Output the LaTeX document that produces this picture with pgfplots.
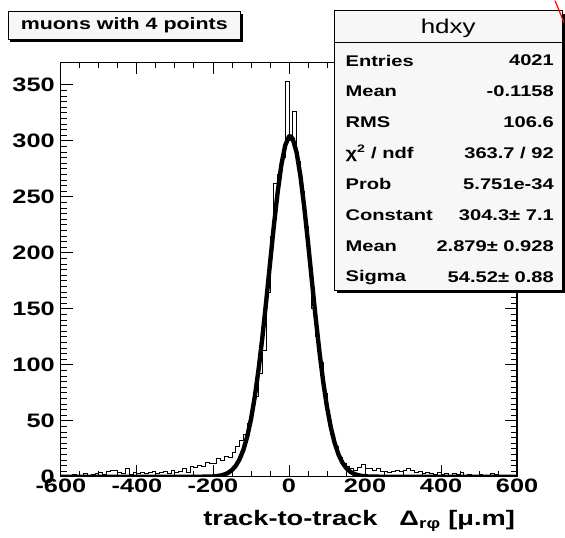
\documentclass[border=0pt]{standalone}
\usepackage{fontspec}
\setmainfont{Liberation Sans}[FakeStretch=1.3]
\usepackage{pgfplots}
\pgfplotsset{compat=1.18}
\begin{document}
\begin{tikzpicture}[x=1pt,y=1pt]
\path (0,0) rectangle (565,538);
\begin{axis}[at={(61pt,61pt)}, anchor=south west, scale only axis,
  width=457pt, height=415pt,
  xmin=-600, xmax=600, ymin=0, ymax=370,
  xtick={-600,-400,-200,0,200,400,600}, ytick={0,50,100,150,200,250,300,350},
  minor x tick num=3, minor y tick num=9,
  tick align=inside, major tick length=12pt, minor tick length=6pt,
  axis line style={line width=1.2pt},
  every tick/.style={black, line width=0.9pt},
  /pgf/number format/assume math mode=true,
  ticklabel style={font=\bfseries\fontsize{19.5}{19.5}\selectfont},
  xticklabel style={inner sep=1pt, yshift=-1pt},
  yticklabel style={inner sep=2pt, xshift=-4pt},
]
\addplot[const plot, black, line width=0.9pt] coordinates {
(-600,1) (-590,0) (-580,1) (-570,2) (-560,0) (-550,1) (-540,3) (-530,1) (-520,2) (-510,3)
(-500,4) (-490,2) (-480,5) (-470,6) (-460,6) (-450,4) (-440,3) (-430,7) (-420,2) (-410,4)
(-400,3) (-390,4) (-380,3) (-370,4) (-360,5) (-350,3) (-340,4) (-330,5) (-320,3) (-310,6)
(-300,4) (-290,5) (-280,7) (-270,4) (-260,9) (-250,8) (-240,10) (-230,9) (-220,13) (-210,12)
(-200,12) (-190,16) (-180,15) (-170,18) (-160,17) (-150,22) (-140,27) (-130,32) (-120,38) (-110,48)
(-100,60) (-90,72) (-80,92) (-70,113) (-60,165) (-50,215) (-40,262) (-30,270) (-20,285) (-10,353)
(0,300) (10,326) (20,282) (30,255) (40,224) (50,190) (60,150) (70,125) (80,102) (90,74)
(100,54) (110,38) (120,27) (130,17) (140,12) (150,9) (160,7) (170,6) (180,8) (190,11)
(200,7) (210,7) (220,6) (230,7) (240,5) (250,5) (260,4) (270,5) (280,6) (290,5)
(300,6) (310,7) (320,6) (330,4) (340,5) (350,3) (360,4) (370,3) (380,2) (390,4)
(400,2) (410,3) (420,1) (430,3) (440,2) (450,4) (460,1) (470,2) (480,1) (490,1)
(500,2) (510,1) (520,1) (530,3) (540,2) (550,1) (560,0) (570,1) (580,1) (590,0) (600,0)
};
\addplot[black, line width=4.4pt, line join=round, line cap=round] coordinates {
(-600,0) (-300,0) (-250,0) (-220,0.07) (-210,0.15) (-200,0.30) (-190,0.58) (-180,1.10)
(-170,1.99) (-160,3.50) (-150,6.0) (-140,9.8) (-130,15.6) (-120,24.0) (-110,35.7)
(-100,51.3) (-90,71.3) (-80,95.9) (-70,124.5) (-60,156.5) (-50,190.1) (-40,223.5)
(-30,253.7) (-20,278.6) (-10,295.9) (0,303.9) (2.879,304.3) (10,301.7) (20,289.7) (30,268.9)
(40,241.3) (50,209.5) (60,175.8) (70,142.6) (80,111.9) (90,84.9) (100,62.2) (110,44.2)
(120,30.3) (130,20.1) (140,12.9) (150,8.0) (160,4.77) (170,2.77) (180,1.56) (190,0.84)
(200,0.44) (210,0.22) (220,0.11) (250,0) (300,0) (600,0)
};
\end{axis}
% title box
\fill[black] (10.5,496.5) rectangle (243.5,524.5);
\draw[line width=0.8pt, fill=gray!6] (8,499) rectangle (241,527);
\node[font=\bfseries\fontsize{16.5}{16.5}\selectfont] at (124.5,513) {muons with 4 points};
% stats box
\fill[black] (338,245) rectangle (566,525);
\draw[line width=0.8pt, fill=gray!6] (335,248) rectangle (563,528);
\draw[line width=0.8pt] (335,496) -- (563,496);
\node[font=\fontsize{20}{20}\selectfont] at (449,510) {hdxy};
\begin{scope}[every node/.style={font=\bfseries\fontsize{15.5}{15.5}\selectfont, inner sep=0pt}]
\node[anchor=west] at (346,478) {Entries};   \node[anchor=east] at (555,478) {4021};
\node[anchor=west] at (346,447) {Mean};      \node[anchor=east] at (555,447) {-0.1158};
\node[anchor=west] at (346,416) {RMS};       \node[anchor=east] at (555,416) {106.6};
\node[anchor=west] at (346,385) {χ\textsuperscript{2} / ndf}; \node[anchor=east] at (555,385) {363.7 / 92};
\node[anchor=west] at (346,354) {Prob};      \node[anchor=east] at (555,354) {5.751e-34};
\node[anchor=west] at (346,323) {Constant};  \node[anchor=east] at (555,323) {304.3± 7.1};
\node[anchor=west] at (346,292) {Mean};      \node[anchor=east] at (555,292) {2.879± 0.928};
\node[anchor=west] at (346,261) {Sigma};     \node[anchor=east] at (555,261) {54.52± 0.88};
\end{scope}
\draw[red, line width=1.2pt] (556,538) -- (565,516);
% x axis title
\node[anchor=east, font=\bfseries\fontsize{21}{21}\selectfont, inner sep=0pt] at (516,17)
  {track-to-track\hspace{22pt}Δ\textsubscript{rφ} [μ.m]};
\end{tikzpicture}
\end{document}
